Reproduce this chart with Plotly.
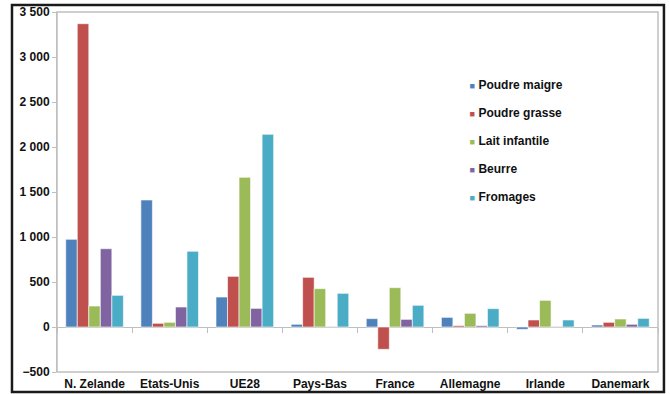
import plotly.graph_objects as go

# Pays / zones
categories = ["N. Zelande", "Etats-Unis", "UE28", "Pays-Bas", "France",
              "Allemagne", "Irlande", "Danemark"]

# Valeurs par produit laitier
poudre_maigre = [974, 1411, 333, 30, 93, 107, -26, 22]
poudre_grasse = [3370, 41, 563, 552, -248, 15, 78, 52]
lait_infantile = [233, 52, 1663, 426, 437, 152, 296, 89]
beurre = [870, 222, 207, 5, 85, 15, 5, 30]
fromages = [352, 841, 2141, 374, 241, 204, 78, 96]

series_names = ["Poudre maigre", "Poudre grasse", "Lait infantile", "Beurre", "Fromages"]
series_values = [poudre_maigre, poudre_grasse, lait_infantile, beurre, fromages]
colors = ["#4F81BD", "#C0504D", "#9BBB59", "#8064A2", "#4BACC6"]

y_ticks = [-500, 0, 500, 1000, 1500, 2000, 2500, 3000, 3500]

FONT = "Liberation Sans, Arial, sans-serif"

fig = go.Figure()

for name, vals, col in zip(series_names, series_values, colors):
    fig.add_trace(go.Bar(
        x=categories, y=vals, name=name,
        marker=dict(color=col, line=dict(color="white", width=0.6)),
        showlegend=False, xaxis="x", yaxis="y",
    ))

# Entrées de légende avec petit carré coloré
for i, (name, col) in enumerate(zip(series_names, colors)):
    fig.add_trace(go.Scatter(
        x=categories, y=[None] * len(categories), mode="markers",
        marker=dict(color="rgba(0,0,0,0)", size=1),
        name=f"<span style='color:{col};font-size:9px'>■</span> {name}",
        legendgroup=f"g{i}", showlegend=True, xaxis="x2", yaxis="y",
        hoverinfo="skip",
    ))

fig.update_layout(
    width=670, height=394,
    margin=dict(l=57, r=12, t=12, b=22, autoexpand=False),
    paper_bgcolor="white", plot_bgcolor="white",
    separators=", ",
    barmode="group", bargap=0.233, bargroupgap=0,
    font=dict(family=FONT, size=12, color="#000000", weight="bold"),
    showlegend=True,
    legend=dict(
        x=0.62, y=0.839, xanchor="left", yanchor="top",
        bgcolor="rgba(0,0,0,0)", tracegroupgap=9,
        font=dict(family=FONT, size=12, color="#111111", weight="bold"),
        itemclick=False,
    ),
    xaxis=dict(
        type="category", range=[-0.5, 7.5], automargin=False,
        showticklabels=True, ticks="", showline=False, showgrid=False,
        ticklabelstandoff=3,
        tickfont=dict(family=FONT, size=12, color="#111111", weight="bold"),
    ),
    xaxis2=dict(
        type="category", matches="x", overlaying="x", automargin=False,
        anchor="free", position=0.125,
        showticklabels=False, showgrid=False, showline=False,
        ticks="outside", tickson="boundaries", ticklen=5,
        tickcolor="#BFBFBF", tickwidth=1,
    ),
    yaxis=dict(
        range=[-500, 3500], tickvals=y_ticks, tickformat=",d", automargin=False,
        showgrid=False, showline=True, linecolor="#BFBFBF", linewidth=1,
        ticks="outside", ticklen=4, tickcolor="#BFBFBF",
        zeroline=True, zerolinecolor="#BFBFBF", zerolinewidth=1,
        tickfont=dict(family=FONT, size=12, color="#111111", weight="bold"),
    ),
    shapes=[
        # bordure de la zone de tracé
        dict(type="rect", xref="paper", yref="paper", x0=0, x1=1, y0=0, y1=1,
             line=dict(color="#BFBFBF", width=1.5), layer="below"),
        # cadre extérieur
        dict(type="rect", xref="paper", yref="paper",
             x0=-0.0749, x1=1.0099, y0=-0.0556, y1=1.0194,
             line=dict(color="#1a1a1a", width=2.5)),
    ],
)

fig.write_html("out.html")
